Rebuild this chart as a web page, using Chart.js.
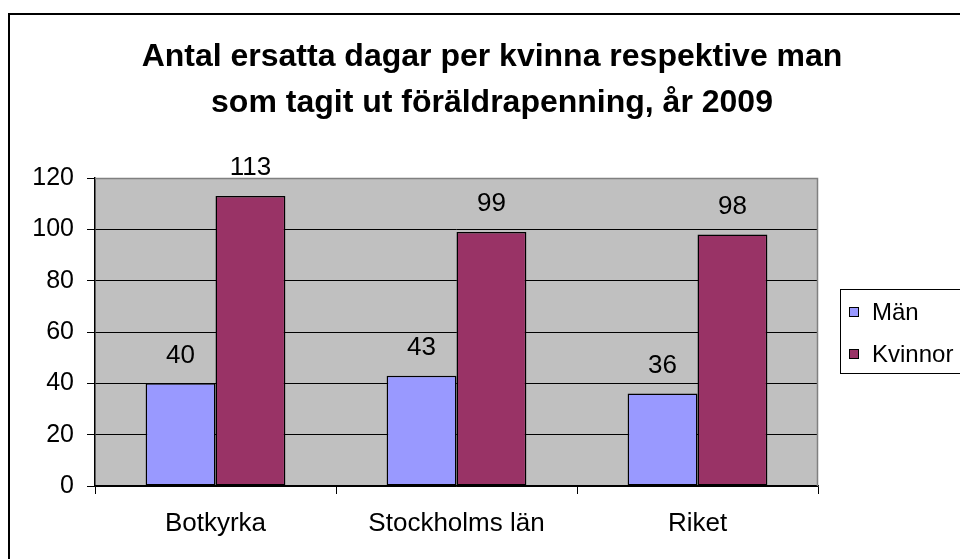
<!DOCTYPE html>
<html><head><meta charset="utf-8">
<script src="https://cdn.jsdelivr.net/npm/chart.js@4/dist/chart.umd.min.js"></script>
<style>html,body{margin:0;padding:0;background:#fff}#wrap{width:960px;height:559px}</style>
</head><body><div id="wrap"><canvas id="c" width="960" height="559"></canvas></div>
<script>
const titleLines = ["Antal ersatta dagar per kvinna respektive man", "som tagit ut föräldrapenning, år 2009"];
const categories = ["Botkyrka", "Stockholms län", "Riket"];
const man = [40, 43, 36];
const kvinnor = [113, 99, 98];
const seriesNames = ["Män", "Kvinnor"];
const yTicks = [0, 20, 40, 60, 80, 100, 120];

const FONT = "'Liberation Sans', Arial, sans-serif";

const decor = {
  id: 'decor',
  beforeDraw(chart) {
    const {ctx, chartArea: a} = chart;
    ctx.save();
    ctx.fillStyle = '#fff';
    ctx.fillRect(0, 0, chart.width, chart.height);
    ctx.fillStyle = '#c0c0c0';
    ctx.fillRect(a.left, a.top, a.right - a.left, a.bottom - a.top);
    ctx.restore();
  },
  afterDatasetsDraw(chart) {
    const {ctx, chartArea: a} = chart;
    ctx.save();
    ctx.strokeStyle = '#808080';
    ctx.lineWidth = 1.5;
    ctx.beginPath();
    ctx.moveTo(a.left, a.top + 0.5);
    ctx.lineTo(a.right - 0.5, a.top + 0.5);
    ctx.lineTo(a.right - 0.5, a.bottom);
    ctx.stroke();
    ctx.fillStyle = '#000';
    ctx.font = '26px ' + FONT;
    ctx.textAlign = 'center';
    ctx.textBaseline = 'middle';
    chart.data.datasets.forEach((ds, i) => {
      chart.getDatasetMeta(i).data.forEach((bar, j) => {
        ctx.fillText(String(ds.data[j]), bar.x, bar.y - 28);
      });
    });
    ctx.restore();
  },
  afterDraw(chart) {
    const {ctx} = chart;
    ctx.save();
    ctx.fillStyle = '#000';
    ctx.font = 'bold 32px ' + FONT;
    ctx.textAlign = 'center';
    ctx.textBaseline = 'middle';
    ctx.fillText(titleLines[0], 492, 57);
    ctx.fillText(titleLines[1], 492, 103);
    ctx.strokeStyle = '#000';
    ctx.lineWidth = 1;
    ctx.strokeRect(840.5, 289.5, 140, 84);
    ctx.font = '24px ' + FONT;
    ctx.textAlign = 'left';
    const ys = [312, 354];
    chart.data.datasets.forEach((ds, i) => {
      ctx.fillStyle = ds.backgroundColor;
      ctx.fillRect(849, ys[i] - 4, 9, 9);
      ctx.strokeRect(849.5, ys[i] - 4.5, 9, 9);
      ctx.fillStyle = '#000';
      ctx.fillText(ds.label, 872, ys[i] + 1);
    });
    ctx.lineWidth = 2;
    ctx.strokeRect(9, 14, 1000, 600);
    ctx.restore();
  }
};

new Chart(document.getElementById('c'), {
  type: 'bar',
  data: {
    labels: categories,
    datasets: [
      {label: seriesNames[0], data: man, backgroundColor: '#9999ff', borderColor: '#000', borderWidth: 1.5, borderSkipped: false},
      {label: seriesNames[1], data: kvinnor, backgroundColor: '#993366', borderColor: '#000', borderWidth: 1.5, borderSkipped: false}
    ]
  },
  options: {
    responsive: false,
    animation: false,
    devicePixelRatio: 1,
    layout: {padding: {top: 178, left: 0, right: 142, bottom: 0}},
    datasets: {bar: {categoryPercentage: 0.58, barPercentage: 1.0}},
    plugins: {legend: {display: false}, title: {display: false}, tooltip: {enabled: false}},
    scales: {
      x: {
        afterFit(s) { s.height = 73; },
        grid: {drawOnChartArea: false, drawTicks: true, tickLength: 8, color: '#000', offset: true},
        border: {display: true, color: '#000', width: 1.5},
        ticks: {color: '#000', font: {family: FONT, size: 26}, padding: 14}
      },
      y: {
        min: 0, max: 120,
        afterFit(s) { s.width = 95; },
        afterBuildTicks(s) { s.ticks = yTicks.map(v => ({value: v})); },
        grid: {color: '#000', lineWidth: 1, tickLength: 8},
        border: {display: true, color: '#000', width: 1.5},
        ticks: {color: '#000', font: {family: FONT, size: 25}, padding: 13}
      }
    }
  },
  plugins: [decor]
});
</script></body></html>
